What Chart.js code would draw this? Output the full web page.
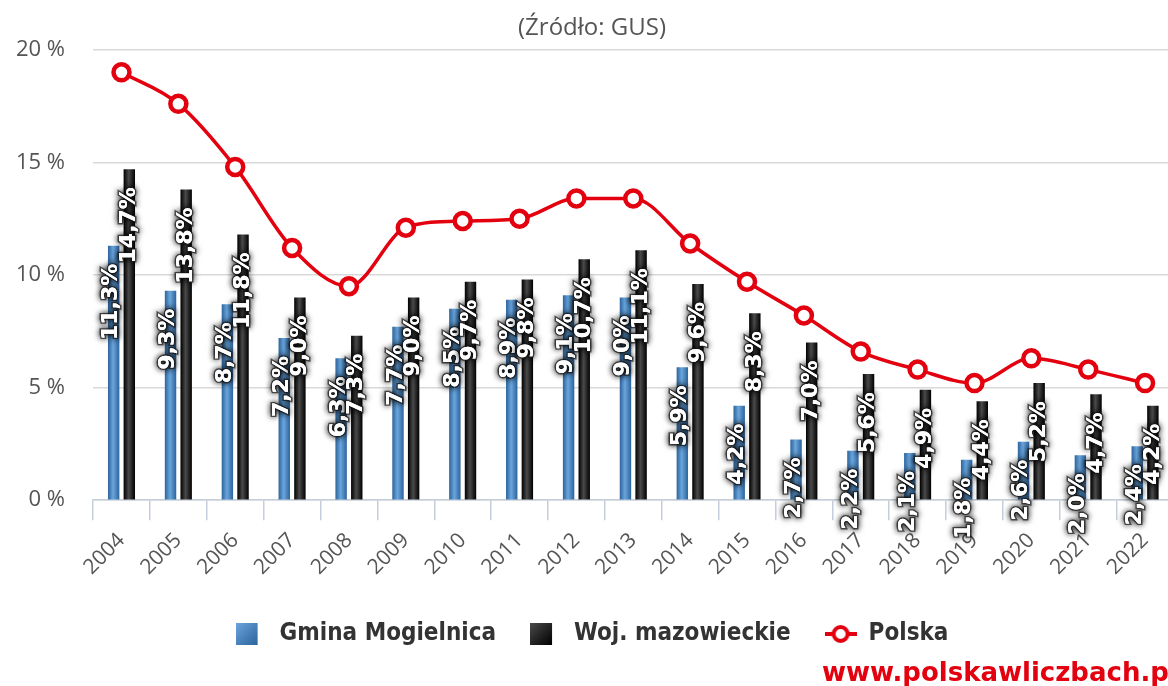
<!DOCTYPE html>
<html>
<head>
<meta charset="utf-8">
<script src="https://cdn.jsdelivr.net/npm/chart.js@4"></script>
<style>
  html, body { margin: 0; padding: 0; background: #fff; overflow: hidden; }
  #wrap { position: relative; width: 1186px; height: 686px; }
  #mark {
    position: absolute; left: 822px; top: 657px;
    font: bold 26px "DejaVu Sans", sans-serif; color: #e3000f;
    white-space: nowrap;
  }
</style>
</head>
<body>
<div id="wrap">
  <canvas id="chart" width="1186" height="686"></canvas>
  <div id="mark">www.polskawliczbach.pl</div>
</div>
<script>
const years = ['2004', '2005', '2006', '2007', '2008', '2009', '2010', '2011', '2012', '2013',
  '2014', '2015', '2016', '2017', '2018', '2019', '2020', '2021', '2022'];
const gmina = [11.3, 9.3, 8.7, 7.2, 6.3, 7.7, 8.5, 8.9, 9.1, 9.0, 5.9, 4.2, 2.7, 2.2, 2.1, 1.8, 2.6, 2.0, 2.4];
const mazowieckie = [14.7, 13.8, 11.8, 9.0, 7.3, 9.0, 9.7, 9.8, 10.7, 11.1, 9.6, 8.3, 7.0, 5.6, 4.9, 4.4, 5.2, 4.7, 4.2];
const polska = [19.0, 17.6, 14.8, 11.2, 9.5, 12.1, 12.4, 12.5, 13.4, 13.4, 11.4, 9.7, 8.2, 6.6, 5.8, 5.2, 6.3, 5.8, 5.2];
const seriesNames = ['Gmina Mogielnica', 'Woj. mazowieckie', 'Polska'];

const CAT_PCT = 0.55;
const BAR_PCT = 0.73;

// bar colours: edge / centre of the "cylinder" gradient
const shades = [
  ['#2c639c', '#6aa6dc'],
  ['#000000', '#4a4a4a']
];

function barFill(c) {
  const chart = c.chart;
  const xs = chart.scales.x;
  const pair = shades[c.datasetIndex];
  if (!xs || c.type !== 'data') return pair[0];
  const centre = xs.getPixelForValue(c.dataIndex);
  const slot = xs.width / years.length * CAT_PCT / 2;
  const off = c.datasetIndex === 0 ? -slot / 2 : slot / 2;
  const bw = slot * BAR_PCT;
  const x0 = centre + off - bw / 2;
  const g = chart.ctx.createLinearGradient(x0, 0, x0 + bw, 0);
  g.addColorStop(0, pair[0]);
  g.addColorStop(0.45, pair[1]);
  g.addColorStop(1, pair[0]);
  return g;
}

// legend icons, 32px wide so the text sits where it does in the original
function legendIcon(kind) {
  const cv = document.createElement('canvas');
  const c = cv.getContext('2d');
  cv.width = 32; cv.height = 24;
  if (kind === 'line') {
    c.strokeStyle = '#e3000f';
    c.lineWidth = 4;
    c.beginPath(); c.moveTo(0, 12); c.lineTo(32, 12); c.stroke();
    c.fillStyle = '#fff';
    c.beginPath(); c.arc(16, 12, 7, 0, Math.PI * 2); c.fill(); c.stroke();
  } else {
    const pair = shades[kind];
    const g = c.createLinearGradient(0, 1, 22, 23);
    g.addColorStop(0, pair[1]);
    g.addColorStop(1, pair[0]);
    c.fillStyle = g;
    c.fillRect(0, 1, 22, 22);
  }
  return cv;
}
const icons = [legendIcon(0), legendIcon(1), legendIcon('line')];

// white rotated value labels with a dark halo
const valueLabels = {
  id: 'valueLabels',
  afterDatasetsDraw(chart) {
    const ctx = chart.ctx;
    ctx.save();
    ctx.font = 'bold 22px "DejaVu Sans", sans-serif';
    ctx.textAlign = 'right';
    ctx.textBaseline = 'middle';
    [0, 1].forEach(di => {
      const meta = chart.getDatasetMeta(di);
      meta.data.forEach((el, i) => {
        const txt = chart.data.datasets[di].data[i].toFixed(1).replace('.', ',') + '%';
        ctx.save();
        ctx.translate(el.x - (di === 0 ? 2 : 0), el.y + 18);
        ctx.rotate(-Math.PI / 2);
        ctx.shadowColor = 'rgba(0,0,0,0.9)';
        ctx.shadowBlur = 6;
        ctx.lineWidth = 3;
        ctx.strokeStyle = 'rgba(30,30,30,0.7)';
        ctx.strokeText(txt, 0, 0);
        ctx.fillStyle = '#fff';
        ctx.fillText(txt, 0, 0);
        ctx.shadowBlur = 0;
        ctx.fillText(txt, 0, 0);
        ctx.restore();
      });
    });
    ctx.restore();
  }
};

// the plot is pulled left with negative padding; put title and legend back in the middle
const recentre = {
  id: 'recentre',
  afterLayout(chart) {
    [chart.titleBlock, chart.legend].forEach(box => {
      if (!box) return;
      box.left += 11;
      box.right += 11;
    });
  }
};

new Chart(document.getElementById('chart'), {
  data: {
    labels: years,
    datasets: [
      {
        type: 'bar',
        label: seriesNames[0],
        data: gmina,
        backgroundColor: barFill,
        categoryPercentage: CAT_PCT,
        barPercentage: BAR_PCT,
        order: 1
      },
      {
        type: 'bar',
        label: seriesNames[1],
        data: mazowieckie,
        backgroundColor: barFill,
        categoryPercentage: CAT_PCT,
        barPercentage: BAR_PCT,
        order: 1
      },
      {
        type: 'line',
        label: seriesNames[2],
        data: polska,
        borderColor: '#e3000f',
        borderWidth: 3.5,
        cubicInterpolationMode: 'monotone',
        pointRadius: 8,
        pointBorderWidth: 4.5,
        pointBackgroundColor: '#fff',
        pointBorderColor: '#e3000f',
        order: 0
      }
    ]
  },
  options: {
    responsive: false,
    animation: false,
    layout: { padding: { left: -12, right: 12, bottom: 30 } },
    plugins: {
      title: {
        display: true,
        text: '(Źródło: GUS)',
        color: '#555',
        font: { family: '"Open Sans", sans-serif', size: 24, weight: 'normal' },
        padding: { top: 14, bottom: 7 }
      },
      tooltip: { enabled: false },
      legend: {
        position: 'bottom',
        labels: {
          usePointStyle: true,
          pointStyleWidth: 32,
          boxHeight: 24,
          padding: 34,
          color: '#333',
          font: { family: '"DejaVu Sans Condensed", sans-serif', size: 24, weight: 'bold' },
          generateLabels: chart => chart.data.datasets.map((ds, i) => ({
            text: ds.label,
            pointStyle: icons[i],
            fillStyle: 'transparent',
            strokeStyle: 'transparent',
            lineWidth: 0,
            datasetIndex: i,
            fontColor: '#333'
          }))
        }
      }
    },
    scales: {
      x: {
        grid: {
          display: true,
          drawOnChartArea: false,
          drawTicks: true,
          tickLength: 20,
          color: '#c5cfdc',
          lineWidth: 1.5
        },
        border: { color: '#c5cfdc', width: 1.5 },
        ticks: {
          minRotation: 45,
          maxRotation: 45,
          padding: 8,
          color: '#555',
          font: { family: '"Open Sans", sans-serif', size: 21 }
        }
      },
      y: {
        min: 0,
        max: 20,
        ticks: {
          stepSize: 5,
          padding: 28,
          color: '#555',
          font: { family: '"Open Sans", sans-serif', size: 22 },
          callback: v => v + ' %'
        },
        grid: { color: '#d9d9d9', lineWidth: 1.5, drawTicks: false },
        border: { display: false }
      }
    }
  },
  plugins: [valueLabels, recentre]
});
</script>
</body>
</html>
